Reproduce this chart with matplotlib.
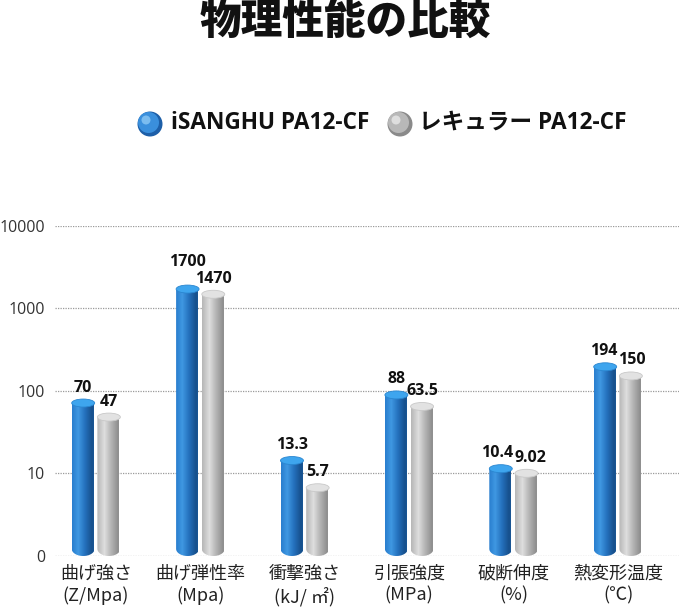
import numpy as np
import matplotlib
matplotlib.use("Agg")
import matplotlib.pyplot as plt
from matplotlib.path import Path
from matplotlib.patches import PathPatch, Ellipse
from matplotlib.transforms import IdentityTransform
from matplotlib.colors import LinearSegmentedColormap

plt.rcParams['font.family'] = ['Noto Sans CJK JP', 'DejaVu Sans']
LATIN = ['Open Sans', 'Noto Sans CJK JP', 'DejaVu Sans']

# ---- data ----
categories = ["曲げ強さ\n(Z/Mpa)", "曲げ弾性率\n(Mpa)", "衝撃強さ\n(kJ/ ㎡)",
              "引張強度\n(MPa)", "破断伸度\n(%)", "熱変形温度\n(℃)"]
series_names = ["iSANGHU PA12-CF", "レキュラー PA12-CF"]
isanghu = [70, 1700, 13.3, 88, 10.4, 194]
regular = [47, 1470, 5.7, 63.5, 9.02, 150]
value_labels_a = ["70", "1700", "13.3", "88", "10.4", "194"]
value_labels_b = ["47", "1470", "5.7", "63.5", "9.02", "150"]
yticks = [1, 10, 100, 1000, 10000]
ytick_labels = ["0", "10", "100", "1000", "10000"]

W, H = 679, 613
fig = plt.figure(figsize=(W / 100, H / 100), dpi=100)
fig.patch.set_facecolor("white")

ax_left, ax_right, ax_bot, ax_top = 55, 679, 556, 225.5
ax = fig.add_axes([ax_left / W, (H - ax_bot) / H, (ax_right - ax_left) / W, (ax_bot - ax_top) / H])
ax.set_yscale("log")
ax.set_ylim(1, 10000)
ax.set_xlim(-0.393, 5.584)
for s in ax.spines.values():
    s.set_visible(False)

for yv in yticks:
    ax.axhline(yv, color="#9a9a9a", lw=0.9, ls=(0, (1, 1)), zorder=0)

ax.set_yticks(yticks)
ax.set_yticklabels(ytick_labels, fontsize=11.5, color="#333333", family=LATIN)
ax.yaxis.set_minor_locator(matplotlib.ticker.NullLocator())
ax.tick_params(axis="y", length=0, pad=7)

x = np.arange(len(categories))
ax.set_xticks(x)
ax.set_xticklabels(categories, fontsize=13, color="#222222", linespacing=1.3)
ax.tick_params(axis="x", length=0, pad=6)

bw = 0.22
off = 0.123
bars_a = ax.bar(x - off, isanghu, width=bw, bottom=1, color="none", edgecolor="none")
bars_b = ax.bar(x + off, regular, width=bw, bottom=1, color="none", edgecolor="none")

cmap_blue = LinearSegmentedColormap.from_list(
    "b", [(0, "#2a7fcf"), (0.25, "#3f98e2"), (0.55, "#2470bc"), (0.85, "#17508c"), (1, "#1c5c9e")])
cmap_grey = LinearSegmentedColormap.from_list(
    "g", [(0, "#b8b8b8"), (0.3, "#dedede"), (0.6, "#b4b4b4"), (0.9, "#8e8e8e"), (1, "#9c9c9c")])
grad = np.linspace(0, 1, 256).reshape(1, -1)

ry = 4.0
ident = IdentityTransform()


def draw_cyl(bar, cmap, cap_color, cap_edge):
    x0 = bar.get_x()
    x1 = x0 + bar.get_width()
    top = bar.get_y() + bar.get_height()
    (px0, pbase) = ax.transData.transform((x0, 1))
    (px1, ptop) = ax.transData.transform((x1, top))
    cx = (px0 + px1) / 2
    rx = (px1 - px0) / 2
    rb = ry * 1.8
    yb = pbase + rb
    t = np.linspace(0, np.pi, 40)
    arc = np.column_stack([cx + rx * np.cos(t), yb - rb * np.sin(t)])
    verts = [(px0, ptop), (px1, ptop)] + [tuple(p) for p in arc] + [(px0, ptop)]
    codes = [Path.MOVETO] + [Path.LINETO] * (len(verts) - 2) + [Path.CLOSEPOLY]
    clip = PathPatch(Path(verts, codes), transform=ident, facecolor="none", edgecolor="none")
    im = ax.imshow(grad, cmap=cmap, extent=(x0, x1, 1, top), aspect="auto",
                   interpolation="bilinear", zorder=2)
    im.set_clip_path(clip)
    cap = Ellipse((cx, ptop), 2 * rx, 2 * ry, transform=ident, facecolor=cap_color,
                  edgecolor=cap_edge, lw=0.6, zorder=3)
    ax.add_artist(cap)
    return cx, ptop


def label(px, ptop, text):
    return ax.annotate(text, xy=(px, ptop), xycoords=ident, xytext=(0, ry * 0.72 + 2.5),
                       textcoords="offset points", ha="center", va="bottom",
                       fontsize=11.5, fontweight="bold", color="#111111",
                       family=LATIN, annotation_clip=False)


labs_a, labs_b = [], []
for bar, lab in zip(bars_a, value_labels_a):
    cx, pt = draw_cyl(bar, cmap_blue, "#3ea5ee", "#2a86d0")
    labs_a.append(label(cx, pt, lab))
for bar, lab in zip(bars_b, value_labels_b):
    cx, pt = draw_cyl(bar, cmap_grey, "#e2e2e2", "#c8c8c8")
    labs_b.append(label(cx, pt, lab))

ax.set_xlim(-0.393, 5.584)
ax.set_ylim(1, 10000)

# resolve collisions between the two labels of a group
renderer = fig.canvas.get_renderer()
for la, lb in zip(labs_a, labs_b):
    ba = la.get_window_extent(renderer)
    bb = lb.get_window_extent(renderer)
    hov = min(ba.x1, bb.x1) - max(ba.x0, bb.x0)
    vov = min(ba.y1, bb.y1) - max(ba.y0, bb.y0)
    if hov > 0 and vov > 0:
        dx, dy = la.xyann
        if hov > 8:
            la.xyann = (dx, dy + (bb.y1 - ba.y0 + 1) * 0.72)
        else:
            la.xyann = (dx - (hov / 2 + 0.5) * 0.72, dy)
            ex, ey = lb.xyann
            lb.xyann = (ex + (hov / 2 + 0.5) * 0.72, ey)

# ---- title ----
fig.text(345 / W, 1 - 23 / H, "物理性能の比較", ha="center", va="center",
         fontsize=30, fontweight="black", color="#111111")

# ---- legend ----
def sphere(cx, cy, base, light, dark):
    cy_d = H - cy
    fig.add_artist(Ellipse((cx, cy_d), 25, 25, transform=ident, facecolor=dark, edgecolor="none"))
    fig.add_artist(Ellipse((cx - 1.5, cy_d + 1.5), 21, 21, transform=ident, facecolor=base, edgecolor="none"))
    fig.add_artist(Ellipse((cx - 4, cy_d + 4), 9, 9, transform=ident, facecolor=light, edgecolor="none", alpha=0.8))

sphere(150, 124, "#3a8fdc", "#8cc8f5", "#1d5fa8")
fig.text(171 / W, 1 - 123 / H, series_names[0], ha="left", va="center",
         fontsize=16.3, fontweight="bold", color="#111111", family=LATIN)
sphere(400, 124, "#b8b8b8", "#e8e8e8", "#8a8a8a")
fig.text(419 / W, 1 - 123 / H, series_names[1], ha="left", va="center",
         fontsize=16.3, fontweight="bold", color="#111111", family=LATIN)

fig.savefig("out.png", dpi=100)
